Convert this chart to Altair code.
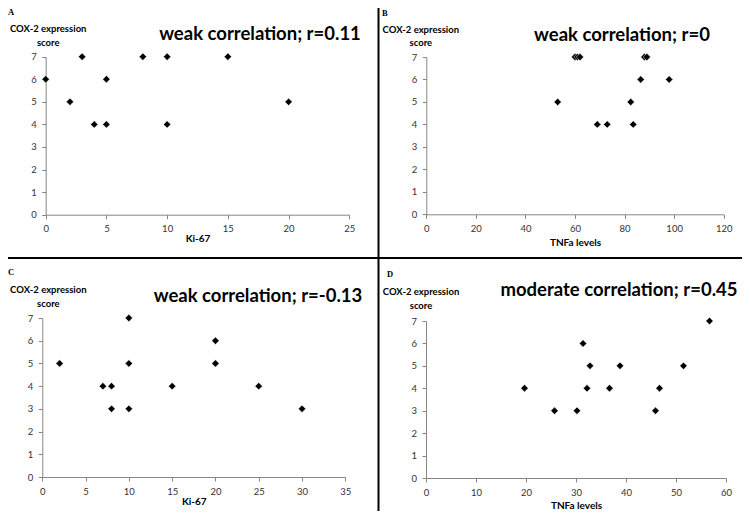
import altair as alt
import pandas as pd

# ---------------- data ----------------
a_ki67 = [0, 2, 3, 4, 5, 5, 8, 10, 10, 15, 20]
a_cox = [6, 5, 7, 4, 6, 4, 7, 7, 4, 7, 5]

b_tnfa = [53, 60, 61, 62, 69, 73, 82.5, 83.5, 86.5, 88, 89, 98]
b_cox = [5, 7, 7, 7, 4, 4, 5, 4, 6, 7, 7, 6]

c_ki67 = [2, 7, 8, 8, 10, 10, 10, 15, 20, 20, 25, 30]
c_cox = [5, 4, 4, 3, 7, 5, 3, 4, 6, 5, 4, 3]

d_tnfa = [19.7, 25.7, 30.2, 31.4, 32.2, 32.8, 36.7, 38.8, 45.9, 46.7, 51.5, 56.7]
d_cox = [4, 3, 3, 6, 4, 5, 4, 5, 3, 4, 5, 7]

panel_letters = ["A", "B", "C", "D"]
panel_titles = [
    "weak correlation; r=0.11",
    "weak correlation; r=0",
    "weak correlation; r=-0.13",
    "moderate correlation; r=0.45",
]
x_titles = ["Ki-67", "TNFa levels", "Ki-67", "TNFa levels"]
y_title = ["COX-2 expression", "score\u00a0\u00a0\u00a0\u00a0\u00a0\u00a0"]

x_domains = [[0, 25], [0, 120], [0, 35], [0, 60]]
x_ticks = [
    [0, 5, 10, 15, 20, 25],
    [0, 20, 40, 60, 80, 100, 120],
    [0, 5, 10, 15, 20, 25, 30, 35],
    [0, 10, 20, 30, 40, 50, 60],
]
y_ticks = [0, 1, 2, 3, 4, 5, 6, 7]

# ---------------- layout ----------------
W, H = 734, 503
# plot-area pixel boxes [x0, x1, ybottom, ytop] in chart coordinates
boxes = [
    [37.7, 341.3, 206.7, 48.7],
    [418.3, 715.7, 206.3, 49.0],
    [34.3, 337.3, 469.0, 310.0],
    [418.0, 718.0, 470.0, 313.0],
]
xtitle_y = [27, 31, 27, 30]
ytitle_pos = [(2.0, 23.7), (-6.0, 24.3), (5.5, 284.6), (-5.5, 286.7)]
title_pos = [(252.0, 32.0), (614.0, 32.7), (250.0, 293.7), (611.0, 288.0)]
letter_pos = [(0, 7.0), (374, 7.5), (0, 267.0), (379, 269.0)]

FONT = "Lato"
AX_GRAY = "#868686"

datasets = [
    pd.DataFrame({"x": a_ki67, "y": a_cox}),
    pd.DataFrame({"x": b_tnfa, "y": b_cox}),
    pd.DataFrame({"x": c_ki67, "y": c_cox}),
    pd.DataFrame({"x": d_tnfa, "y": d_cox}),
]

layers = []
for i, df in enumerate(datasets):
    x0, x1, yb, yt = boxes[i]
    tx, ty = ytitle_pos[i]
    pts = alt.Chart(df).mark_point(
        shape="diamond", filled=True, color="black", size=55,
        stroke="white", strokeWidth=0.5, opacity=1
    ).encode(
        x=alt.X("x:Q",
                scale=alt.Scale(domain=x_domains[i], range=[x0, x1], nice=False, zero=False),
                axis=alt.Axis(orient="bottom", offset=yb - H, values=x_ticks[i],
                              title=x_titles[i], titleY=xtitle_y[i], titleBaseline="alphabetic",
                              titleFont=FONT, titleFontSize=10, titleFontWeight="bold",
                              titleColor="black",
                              labelFont=FONT, labelFontSize=9.5, labelColor="#333333",
                              labelPadding=5, tickSize=4, tickColor=AX_GRAY,
                              domainColor=AX_GRAY, grid=False, labelFlush=False,
                              labelOverlap=False)),
        y=alt.Y("y:Q",
                scale=alt.Scale(domain=[0, 7], range=[yb, yt], nice=False, zero=False),
                axis=alt.Axis(orient="left", offset=-x0, values=y_ticks,
                              title=y_title, titleAngle=0, titleAlign="center",
                              titleBaseline="alphabetic", titleX=tx, titleY=ty,
                              titleLineHeight=13.5,
                              titleFont=FONT, titleFontSize=9.5, titleFontWeight="bold",
                              titleColor="black",
                              labelFont=FONT, labelFontSize=9.5, labelColor="#333333",
                              labelPadding=5.5, tickSize=4, tickColor=AX_GRAY,
                              domainColor=AX_GRAY, grid=False, labelFlush=False,
                              labelOverlap=False)),
    )
    layers.append(pts)

one = pd.DataFrame({"k": [0]})

for i in range(4):
    cx, cy = title_pos[i]
    layers.append(
        alt.Chart(one).mark_text(
            text=panel_titles[i], font=FONT, fontSize=18.5, fontWeight="bold",
            color="black", align="center", baseline="alphabetic"
        ).encode(x=alt.value(cx), y=alt.value(cy))
    )
    lx, ly = letter_pos[i]
    layers.append(
        alt.Chart(one).mark_text(
            text=panel_letters[i], font="Liberation Serif", fontSize=8.5,
            fontWeight="bold", color="black", align="left", baseline="alphabetic"
        ).encode(x=alt.value(lx), y=alt.value(ly))
    )

layers.append(
    alt.Chart(one).mark_rule(color="black", strokeWidth=2).encode(
        x=alt.value(370.5), y=alt.value(0), y2=alt.value(H))
)
layers.append(
    alt.Chart(one).mark_rule(color="black", strokeWidth=2).encode(
        x=alt.value(0), x2=alt.value(W), y=alt.value(250))
)

chart = alt.layer(*layers).resolve_scale(
    x="independent", y="independent"
).properties(
    width=W, height=H, padding=0,
    autosize=alt.AutoSizeParams(type="none"),
    background="white",
).configure_view(stroke=None)

chart.save("out.html", embed_options={"renderer": "svg", "actions": False})
